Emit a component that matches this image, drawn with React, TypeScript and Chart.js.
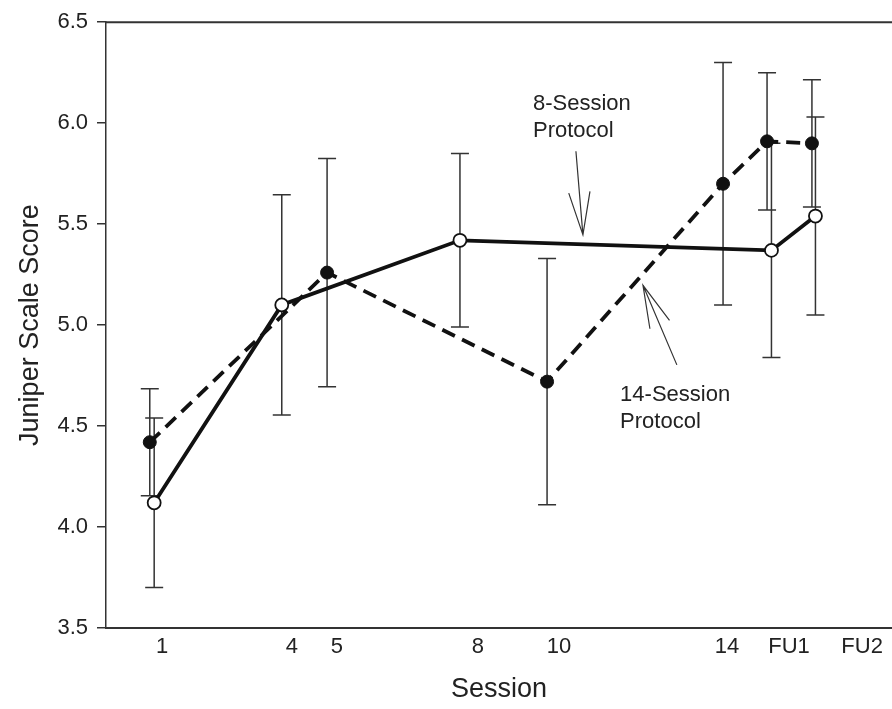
import React, { useEffect, useRef } from "react";
import { Chart, registerables } from "chart.js";

Chart.register(...registerables);

// Session positions (x in session units; FU1 ≈ 15, FU2 ≈ 16)
const eightSessionX = [1.05, 3.95, 8, 15.08, 16.08];
const eightSessionMean = [4.12, 5.1, 5.42, 5.37, 5.54];
const eightSessionSD = [0.42, 0.545, 0.43, 0.53, 0.49];

const fourteenSessionX = [0.95, 4.98, 9.98, 13.98, 14.98, 16.0];
const fourteenSessionMean = [4.42, 5.26, 4.72, 5.7, 5.91, 5.9];
const fourteenSessionSD = [0.265, 0.565, 0.61, 0.6, 0.34, 0.315];

// Tick labels and where they are printed on the session axis
const xTickLabels = ["1", "4", "5", "8", "10", "14", "FU1", "FU2"];
const xTickValues = [1.23, 4.18, 5.2, 8.41, 10.25, 14.07, 15.48, 17.14];

// Annotations in data units
const annotationLines8 = ["8-Session", "Protocol"];
const annotationLines14 = ["14-Session", "Protocol"];
const annotationAnchor8 = { x: 9.66, y: 6.097 };
const annotationAnchor14 = { x: 11.64, y: 4.655 };
const arrow8 = { from: { x: 10.636, y: 5.861 }, to: { x: 10.795, y: 5.447 } };
const arrow14 = { from: { x: 12.93, y: 4.803 }, to: { x: 12.16, y: 5.197 } };

const FONT = "'Liberation Sans', Arial, Helvetica, sans-serif";
const TEXT = "#222";
const AXIS = "#333";

export default function App() {
  const ref = useRef<HTMLCanvasElement>(null);

  useEffect(() => {
    document.body.style.margin = "0";
    const canvas = ref.current;
    if (!canvas) return;

    const errorBars = {
      id: "errorBars",
      beforeDatasetsDraw(chart: any) {
        const { ctx } = chart;
        const xs = chart.scales.x;
        const ys = chart.scales.y;
        const sets = [
          { x: eightSessionX, m: eightSessionMean, sd: eightSessionSD },
          { x: fourteenSessionX, m: fourteenSessionMean, sd: fourteenSessionSD },
        ];
        ctx.save();
        ctx.strokeStyle = AXIS;
        ctx.lineWidth = 1.5;
        const cap = 9;
        for (const s of sets) {
          for (let i = 0; i < s.x.length; i++) {
            const px = xs.getPixelForValue(s.x[i]);
            const top = ys.getPixelForValue(s.m[i] + s.sd[i]);
            const bot = ys.getPixelForValue(s.m[i] - s.sd[i]);
            ctx.beginPath();
            ctx.moveTo(px, top);
            ctx.lineTo(px, bot);
            ctx.moveTo(px - cap, top);
            ctx.lineTo(px + cap, top);
            ctx.moveTo(px - cap, bot);
            ctx.lineTo(px + cap, bot);
            ctx.stroke();
          }
        }
        ctx.restore();
      },
    };

    const decorations = {
      id: "decorations",
      afterDraw(chart: any) {
        const { ctx, chartArea } = chart;
        const xs = chart.scales.x;
        const ys = chart.scales.y;
        ctx.save();
        // top frame line
        ctx.strokeStyle = AXIS;
        ctx.lineWidth = 2;
        ctx.beginPath();
        ctx.moveTo(chartArea.left, chartArea.top);
        ctx.lineTo(chartArea.right, chartArea.top);
        ctx.stroke();

        // annotation texts
        ctx.fillStyle = TEXT;
        ctx.font = `22px ${FONT}`;
        ctx.textAlign = "left";
        ctx.textBaseline = "middle";
        const drawText = (lines: string[], a: { x: number; y: number }) => {
          const px = xs.getPixelForValue(a.x);
          const py = ys.getPixelForValue(a.y);
          lines.forEach((l, i) => ctx.fillText(l, px, py + i * 27));
        };
        drawText(annotationLines8, annotationAnchor8);
        drawText(annotationLines14, annotationAnchor14);

        // arrows
        ctx.strokeStyle = "#333";
        ctx.lineWidth = 1.2;
        const drawArrow = (a: { from: { x: number; y: number }; to: { x: number; y: number } }) => {
          const fx = xs.getPixelForValue(a.from.x);
          const fy = ys.getPixelForValue(a.from.y);
          const tx = xs.getPixelForValue(a.to.x);
          const ty = ys.getPixelForValue(a.to.y);
          ctx.beginPath();
          ctx.moveTo(fx, fy);
          ctx.lineTo(tx, ty);
          const ang = Math.atan2(fy - ty, fx - tx);
          const len = 44;
          const spread = (14 * Math.PI) / 180;
          ctx.moveTo(tx + len * Math.cos(ang - spread), ty + len * Math.sin(ang - spread));
          ctx.lineTo(tx, ty);
          ctx.lineTo(tx + len * Math.cos(ang + spread), ty + len * Math.sin(ang + spread));
          ctx.stroke();
        };
        drawArrow(arrow8);
        drawArrow(arrow14);
        ctx.restore();
      },
    };

    const chart = new Chart(canvas, {
      type: "line",
      data: {
        datasets: [
          {
            label: "8-Session Protocol",
            data: eightSessionX.map((x, i) => ({ x, y: eightSessionMean[i] })),
            borderColor: "#111",
            borderWidth: 3.8,
            pointRadius: 6.5,
            pointBackgroundColor: "#fff",
            pointBorderColor: "#111",
            pointBorderWidth: 1.8,
            tension: 0,
            fill: false,
            clip: false,
          },
          {
            label: "14-Session Protocol",
            data: fourteenSessionX.map((x, i) => ({ x, y: fourteenSessionMean[i] })),
            borderColor: "#111",
            borderWidth: 3.8,
            borderDash: [14, 8],
            pointRadius: 6.5,
            pointBackgroundColor: "#111",
            pointBorderColor: "#111",
            pointBorderWidth: 1,
            tension: 0,
            fill: false,
            clip: false,
          },
        ],
      },
      options: {
        responsive: false,
        animation: false,
        events: [],
        layout: { autoPadding: false, padding: { top: 18, left: 0, right: 0, bottom: 0 } },
        plugins: {
          legend: { display: false },
          tooltip: { enabled: false },
        },
        scales: {
          x: {
            type: "linear",
            min: -0.045,
            max: 17.82,
            afterBuildTicks: (scale: any) => {
              scale.ticks = xTickValues.map((v) => ({ value: v }));
            },
            afterFit: (scale: any) => {
              scale.height = 81;
              scale.paddingLeft = 0;
              scale.paddingRight = 0;
            },
            ticks: {
              autoSkip: false,
              maxRotation: 0,
              padding: 6,
              color: TEXT,
              font: { family: FONT, size: 22 },
              callback: (_v: any, i: number) => xTickLabels[i],
            },
            grid: { display: true, drawOnChartArea: false, drawTicks: false },
            border: { display: true, color: AXIS, width: 2 },
            title: {
              display: true,
              text: "Session",
              color: TEXT,
              font: { family: FONT, size: 27 },
              padding: { top: 0, bottom: 3 },
            },
          },
          y: {
            type: "linear",
            min: 3.5,
            max: 6.5,
            afterFit: (scale: any) => {
              scale.width = 106;
            },
            ticks: {
              stepSize: 0.5,
              padding: 9,
              color: TEXT,
              font: { family: FONT, size: 22 },
              callback: (v: any) => Number(v).toFixed(1),
            },
            grid: {
              display: true,
              drawOnChartArea: false,
              drawTicks: true,
              tickLength: 9,
              color: AXIS,
              lineWidth: 1.5,
            },
            border: { display: true, color: AXIS, width: 1.5 },
            title: {
              display: true,
              text: "Juniper Scale Score",
              color: TEXT,
              font: { family: FONT, size: 27 },
              padding: { top: 14, bottom: 0 },
            },
          },
        },
      },
      plugins: [errorBars, decorations],
    } as any);

    return () => chart.destroy();
  }, []);

  return (
    <div style={{ position: "absolute", left: 0, top: 0, width: 892, height: 709 }}>
      <canvas ref={ref} width={892} height={709} style={{ display: "block" }} />
    </div>
  );
}
